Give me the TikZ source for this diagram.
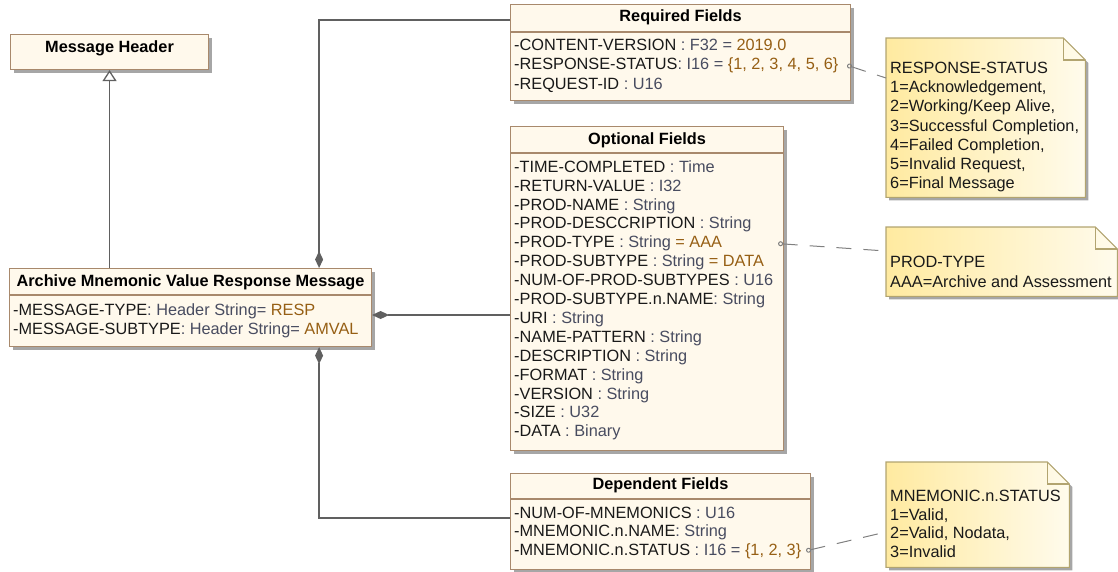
\documentclass[tikz,border=0pt]{standalone}
\usepackage{fontspec}
\setmainfont{Liberation Sans}
\usetikzlibrary{arrows.meta,positioning,calc,shadows}
\definecolor{clsline}{RGB}{168,137,108}
\definecolor{clsfill}{RGB}{255,249,236}
\definecolor{notelineC}{RGB}{178,164,112}
\definecolor{noteL}{RGB}{255,234,160}
\definecolor{noteR}{RGB}{255,251,236}
\definecolor{typegray}{RGB}{72,76,96}
\definecolor{valbrown}{RGB}{150,95,20}
\definecolor{wire}{RGB}{96,96,96}
\newcommand{\tp}[1]{\textcolor{typegray}{#1}}
\newcommand{\vl}[1]{\textcolor{valbrown}{#1}}
% outline of a note with a folded corner
\newcommand{\notepath}[1]{(#1.north west) -- ($(#1.north east)+(-22,0)$) -- ($(#1.north east)+(0,22)$) -- (#1.south east) -- (#1.south west) -- cycle}

\begin{document}
\begin{tikzpicture}[x=1pt, y=-1pt, font=\fontsize{16.3}{19}\selectfont,
  frame/.style={draw=clsline, fill=clsfill, line width=1.1pt, anchor=north west, inner sep=0,
    drop shadow={shadow xshift=3pt, shadow yshift=-3pt, fill=black!35, opacity=1}},
  notebox/.style={anchor=north west, inner sep=0},
  notefill/.style={draw=notelineC, line width=1.1pt, left color=noteL, right color=noteR,
    drop shadow={shadow xshift=3pt, shadow yshift=-3pt, fill=black!35, opacity=1}},
  sep/.style={draw=clsline, line width=1.1pt},
  ttl/.style={font=\fontsize{16.3}{19}\selectfont\bfseries, anchor=base, inner sep=0},
  row/.style={anchor=base west, inner sep=0, text=black!90},
  comp/.style={draw=wire, line width=1.3pt, -{Diamond[length=17, width=8, fill=wire]}},
  gen/.style={draw=wire, line width=1.3pt, -{Triangle[length=11, width=14, fill=white]}},
  link/.style={draw=wire!80, line width=1pt, dash pattern=on 15pt off 12pt,
    {Circle[open, length=5, width=5]}-}]
\useasboundingbox (0,0) rectangle (1118,571);

% notes
\node[notebox, minimum width=199, minimum height=159] (rsN) at (886,38) {};
\draw[notefill] \notepath{rsN};
\draw[notelineC, line width=1.1pt] ($(rsN.north east)+(-22,0)$) |- ($(rsN.north east)+(0,22)$);
\foreach \r [count=\i] in {RESPONSE-STATUS, {1=Acknowledgement,}, {2=Working/Keep Alive,},
    {3=Successful Completion,}, {4=Failed Completion,}, {5=Invalid Request,}, 6=Final Message}
  \node[row] (rs\i) at ($(rsN.north west)+(4,{35.5+19.2*(\i-1)})$) {\r};

\node[notebox, minimum width=231, minimum height=69] (ptN) at (886,227) {};
\draw[notefill] \notepath{ptN};
\draw[notelineC, line width=1.1pt] ($(ptN.north east)+(-22,0)$) |- ($(ptN.north east)+(0,22)$);
\foreach \r [count=\i] in {PROD-TYPE, AAA=Archive and Assessment}
  \node[row] (pt\i) at ($(ptN.north west)+(4,{40.5+20*(\i-1)})$) {\r};

\node[notebox, minimum width=183, minimum height=105] (mnN) at (886,462) {};
\draw[notefill] \notepath{mnN};
\draw[notelineC, line width=1.1pt] ($(mnN.north east)+(-22,0)$) |- ($(mnN.north east)+(0,22)$);
\foreach \r [count=\i] in {MNEMONIC.n.STATUS, {1=Valid,}, {2=Valid, Nodata,}, 3=Invalid}
  \node[row] (mn\i) at ($(mnN.north west)+(4,{39.5+18.7*(\i-1)})$) {\r};

% classes
\node[frame, minimum width=198, minimum height=35] (hdr) at (10,34) {};
\node[ttl] (hdrT) at ($(hdr.north)+(0,18)$) {Message Header};

\node[frame, minimum width=362, minimum height=78] (main) at (9,268) {};
\node[ttl] (mainT) at ($(main.north)+(0,18.5)$) {Archive Mnemonic Value Response Message};
\draw[sep] ($(main.north west)+(0,27)$) -- ($(main.north east)+(0,27)$);
\foreach \r [count=\i] in {{-MESSAGE-TYPE\tp{: Header String=} \vl{RESP}},
    {-MESSAGE-SUBTYPE\tp{: Header String=} \vl{AMVAL}}}
  \node[row] (main\i) at ($(main.north west)+(4,{47.5+19*(\i-1)})$) {\r};

\node[frame, minimum width=340, minimum height=96] (req) at (510,4) {};
\node[ttl] (reqT) at ($(req.north)+(0,17.5)$) {Required Fields};
\draw[sep] ($(req.north west)+(0,28)$) -- ($(req.north east)+(0,28)$);
\foreach \r [count=\i] in {{-CONTENT-VERSION \tp{: F32 =} \vl{2019.0}},
    {-RESPONSE-STATUS\tp{: I16 =} \vl{\{1, 2, 3, 4, 5, 6\}}},
    {-REQUEST-ID \tp{: U16}}}
  \node[row] (req\i) at ($(req.north west)+(4,{46+19.5*(\i-1)})$) {\r};

\node[frame, minimum width=273, minimum height=324] (opt) at (510,126) {};
\node[ttl] (optT) at ($(opt.north)+(0,18)$) {Optional Fields};
\draw[sep] ($(opt.north west)+(0,27)$) -- ($(opt.north east)+(0,27)$);
\foreach \r [count=\i] in {{-TIME-COMPLETED \tp{: Time}}, {-RETURN-VALUE \tp{: I32}},
    {-PROD-NAME \tp{: String}}, {-PROD-DESCCRIPTION \tp{: String}},
    {-PROD-TYPE \tp{: String} \vl{= AAA}}, {-PROD-SUBTYPE \tp{: String} \vl{= DATA}},
    {-NUM-OF-PROD-SUBTYPES \tp{: U16}}, {-PROD-SUBTYPE.n.NAME\tp{: String}},
    {-URI \tp{: String}}, {-NAME-PATTERN \tp{: String}}, {-DESCRIPTION \tp{: String}},
    {-FORMAT \tp{: String}}, {-VERSION \tp{: String}}, {-SIZE \tp{: U32}},
    {-DATA \tp{: Binary}}}
  \node[row] (opt\i) at ($(opt.north west)+(4,{46.2+18.9*(\i-1)})$) {\r};

\node[frame, minimum width=300, minimum height=96] (dep) at (510,473) {};
\node[ttl] (depT) at ($(dep.north)+(0,16.5)$) {Dependent Fields};
\draw[sep] ($(dep.north west)+(0,26)$) -- ($(dep.north east)+(0,26)$);
\foreach \r [count=\i] in {{-NUM-OF-MNEMONICS \tp{: U16}}, {-MNEMONIC.n.NAME\tp{: String}},
    {-MNEMONIC.n.STATUS \tp{: I16 =} \vl{\{1, 2, 3\}}}}
  \node[row] (dep\i) at ($(dep.north west)+(4,{45+18.5*(\i-1)})$) {\r};

% connectors
\coordinate (mainTop) at ($(main.north east)+(-53,0)$);
\coordinate (mainBot) at ($(main.south east)+(-53,0)$);
\coordinate (mainMid) at ($(main.north east)+(0,47)$);
\draw[gen] (main.north -| hdr.south) -- (hdr.south);
\draw[comp] ($(req.north west)+(0,16)$) -| (mainTop);
\draw[comp] (opt.west |- mainMid) -- (mainMid);
\draw[comp] ($(dep.north west)+(0,45)$) -| (mainBot);

\draw[link] ($(req2.east -| req.east)+(-4,0)$) -- ($(rsN.north west)+(0,40)$);
\draw[link] ($(opt5.east -| opt.east)+(-6,0)$) -- ($(ptN.north west)+(0,24)$);
\draw[link] ($(dep3.east -| dep.east)+(-5,0)$) -- ($(mnN.north west)+(0,70)$);
\end{tikzpicture}
\end{document}
